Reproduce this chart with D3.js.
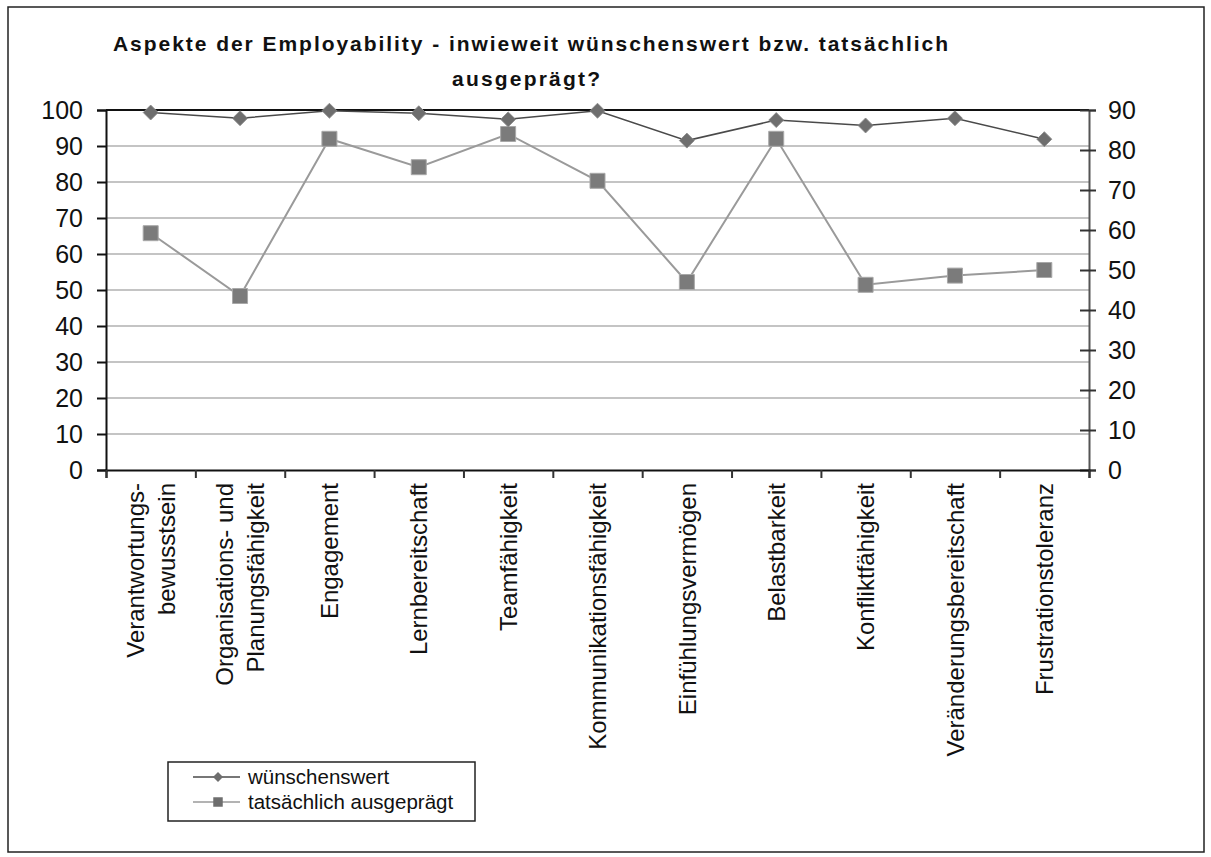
<!DOCTYPE html>
<html>
<head>
<meta charset="utf-8">
<script src="https://cdn.jsdelivr.net/npm/d3@7"></script>
<style>
    body { margin: 0; background: #fff; }
    svg { display: block; font-family: "Liberation Sans", Arial, sans-serif; }
</style>
</head>
<body>
<svg id="chart" width="1211" height="857"></svg>
<script>
// Categories (two-line labels split by "|")
const categories = [
    "Verantwortungs-|bewusstsein",
    "Organisations- und|Planungsfähigkeit",
    "Engagement",
    "Lernbereitschaft",
    "Teamfähigkeit",
    "Kommunikationsfähigkeit",
    "Einfühlungsvermögen",
    "Belastbarkeit",
    "Konfliktfähigkeit",
    "Veränderungsbereitschaft",
    "Frustrationstoleranz"
];

// left axis series
const wuenschenswert = [99.3, 97.7, 99.8, 99.1, 97.4, 99.8, 91.5, 97.2, 95.7, 97.7, 91.9];
// right axis series
const tatsaechlich = [59.2, 43.5, 82.8, 75.7, 84.0, 72.3, 47.0, 82.8, 46.3, 48.6, 50.0];

const leftTicks = [0, 10, 20, 30, 40, 50, 60, 70, 80, 90, 100];
const rightTicks = [0, 10, 20, 30, 40, 50, 60, 70, 80, 90];

const titleLines = [
    "Aspekte der Employability - inwieweit wünschenswert bzw. tatsächlich",
    "ausgeprägt?"
];
const legendLabels = ["wünschenswert", "tatsächlich ausgeprägt"];

const svg = d3.select("#chart");

const plotLeft = 106, plotRight = 1089, plotTop = 110, plotBottom = 470;

// outer frame
svg.append("rect")
    .attr("x", 8).attr("y", 7)
    .attr("width", 1196).attr("height", 845)
    .attr("fill", "none")
    .attr("stroke", "#222")
    .attr("stroke-width", 1.5);

const x = d3.scaleBand().domain(d3.range(categories.length)).range([plotLeft, plotRight]);
const xIdx = d3.scaleLinear().domain([0, categories.length]).range([plotLeft, plotRight]);
const yL = d3.scaleLinear().domain([0, 100]).range([plotBottom, plotTop]);
const yR = d3.scaleLinear().domain([0, 90]).range([plotBottom, plotTop]);

// gridlines
svg.append("g")
    .selectAll("line")
    .data(leftTicks.filter(t => t > 0 && t < 100))
    .join("line")
    .attr("x1", plotLeft).attr("x2", plotRight)
    .attr("y1", d => yL(d)).attr("y2", d => yL(d))
    .attr("stroke", "#c4c4c4")
    .attr("stroke-width", 2);

// top border line
svg.append("line")
    .attr("x1", plotLeft).attr("x2", plotRight)
    .attr("y1", yL(100)).attr("y2", yL(100))
    .attr("stroke", "#111")
    .attr("stroke-width", 2);

// left axis
const gL = svg.append("g")
    .attr("transform", `translate(${plotLeft},0)`)
    .call(d3.axisLeft(yL).tickValues(leftTicks).tickSize(9).tickPadding(14));
gL.select(".domain").attr("stroke", "#111").attr("stroke-width", 2);
gL.selectAll(".tick line").attr("stroke", "#111").attr("stroke-width", 2);
gL.selectAll(".tick text")
    .attr("font-size", 25)
    .attr("fill", "#111")
    .attr("font-family", "Liberation Sans, Arial, sans-serif");

// right axis
const gR = svg.append("g")
    .attr("transform", `translate(${plotRight},0)`)
    .call(d3.axisRight(yR).tickValues(rightTicks).tickSize(7).tickPadding(12));
gR.select(".domain").attr("stroke", "#555").attr("stroke-width", 2);
gR.selectAll(".tick line").attr("x1", -9).attr("stroke", "#333").attr("stroke-width", 2);
gR.selectAll(".tick text")
    .attr("font-size", 25)
    .attr("fill", "#111")
    .attr("font-family", "Liberation Sans, Arial, sans-serif");

// x axis
const gX = svg.append("g")
    .attr("transform", `translate(0,${plotBottom})`)
    .call(d3.axisBottom(xIdx).tickValues(d3.range(categories.length + 1)).tickSize(8).tickFormat(""));
gX.select(".domain").attr("stroke", "#111").attr("stroke-width", 2);
gX.selectAll(".tick line").attr("stroke", "#333").attr("stroke-width", 2);

// x labels, rotated
const lineH = 31;
const xl = svg.append("g")
    .selectAll("text")
    .data(categories)
    .join("text")
    .attr("transform", (d, i) => `translate(${x(i) + x.bandwidth() / 2},483) rotate(-90)`)
    .attr("text-anchor", "end")
    .attr("font-size", 24)
    .attr("fill", "#111");
xl.each(function(d) {
    const parts = d.split("|");
    d3.select(this).selectAll("tspan")
        .data(parts)
        .join("tspan")
        .attr("x", 0)
        .attr("y", (p, j) => (j - (parts.length - 1) / 2) * lineH)
        .attr("dy", "0.36em")
        .text(p => p);
});

// lines
const cx = i => x(i) + x.bandwidth() / 2;

svg.append("path")
    .datum(tatsaechlich)
    .attr("fill", "none")
    .attr("stroke", "#9a9a9a")
    .attr("stroke-width", 2)
    .attr("d", d3.line().x((d, i) => cx(i)).y(d => yR(d)));

svg.append("path")
    .datum(wuenschenswert)
    .attr("fill", "none")
    .attr("stroke", "#4a4a4a")
    .attr("stroke-width", 1.5)
    .attr("d", d3.line().x((d, i) => cx(i)).y(d => yL(d)));

const diamond = d3.symbol(d3.symbolSquare, 112);
const square = d3.symbol(d3.symbolSquare, 225);

svg.append("g")
    .selectAll("path")
    .data(tatsaechlich)
    .join("path")
    .attr("d", square)
    .attr("transform", (d, i) => `translate(${cx(i)},${yR(d)})`)
    .attr("fill", "#7b7b7b")
    .attr("stroke", "#a8a8a8")
    .attr("stroke-width", 1);

svg.append("g")
    .selectAll("path")
    .data(wuenschenswert)
    .join("path")
    .attr("d", diamond)
    .attr("transform", (d, i) => `translate(${cx(i)},${yL(d)}) rotate(45)`)
    .attr("fill", "#6e6e6e")
    .attr("stroke", "#8a8a8a")
    .attr("stroke-width", 0.8);

// title
svg.append("text")
    .attr("x", 113).attr("y", 51)
    .attr("font-size", 21)
    .attr("font-weight", "bold")
    .attr("fill", "#111")
    .attr("textLength", 835)
    .attr("lengthAdjust", "spacing")
    .text(titleLines[0]);

svg.append("text")
    .attr("x", 452).attr("y", 86)
    .attr("font-size", 21)
    .attr("font-weight", "bold")
    .attr("fill", "#111")
    .attr("textLength", 148)
    .attr("lengthAdjust", "spacing")
    .text(titleLines[1]);

// legend
const lg = svg.append("g");
lg.append("rect")
    .attr("x", 168).attr("y", 762)
    .attr("width", 307).attr("height", 59)
    .attr("fill", "#fff")
    .attr("stroke", "#222")
    .attr("stroke-width", 1.5);

const rows = [777, 802];
const lineColors = ["#4a4a4a", "#9a9a9a"];
legendLabels.forEach((lab, i) => {
    lg.append("line")
        .attr("x1", 193).attr("x2", 240)
        .attr("y1", rows[i]).attr("y2", rows[i])
        .attr("stroke", lineColors[i])
        .attr("stroke-width", 1.5);
    lg.append("path")
        .attr("d", i === 0 ? d3.symbol(d3.symbolSquare, 50)() : d3.symbol(d3.symbolSquare, 90)())
        .attr("transform", `translate(218,${rows[i]})` + (i === 0 ? " rotate(45)" : ""))
        .attr("fill", "#6e6e6e");
    lg.append("text")
        .attr("x", 248).attr("y", rows[i])
        .attr("dy", "0.36em")
        .attr("font-size", 20.5)
        .attr("fill", "#111")
        .text(lab);
});
</script>
</body>
</html>
